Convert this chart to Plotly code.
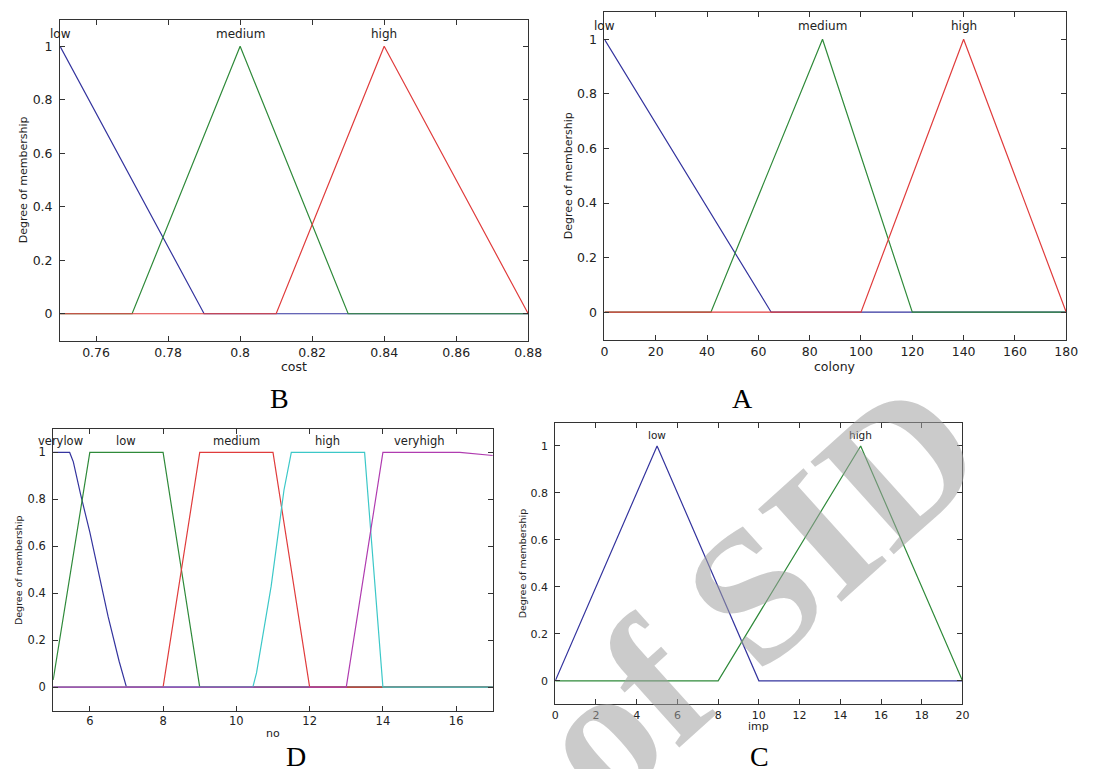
import plotly.graph_objects as go

W, H = 1094, 769

# ---------------- data ----------------
# B: cost
cost_low_x = [0.75, 0.79, 0.88]
cost_low_y = [1, 0, 0]
cost_med_x = [0.75, 0.77, 0.80, 0.83, 0.88]
cost_med_y = [0, 0, 1, 0, 0]
cost_high_x = [0.75, 0.81, 0.84, 0.88]
cost_high_y = [0, 0, 1, 0]
cost_ticks = [0.76, 0.78, 0.80, 0.82, 0.84, 0.86, 0.88]
cost_labels = ["low", "medium", "high"]
cost_label_x = [0.75, 0.80, 0.84]

# A: colony
col_low_x = [0, 65, 180]
col_low_y = [1, 0, 0]
col_med_x = [0, 41.5, 85, 120, 180]
col_med_y = [0, 0, 1, 0, 0]
col_high_x = [0, 100, 140, 180]
col_high_y = [0, 0, 1, 0]
col_ticks = [0, 20, 40, 60, 80, 100, 120, 140, 160, 180]
col_labels = ["low", "medium", "high"]
col_label_x = [0, 85, 140]

# D: no
no_vlow_x = [5, 5.45, 5.55, 5.75, 6.0, 6.25, 6.5, 6.8, 7.0, 17]
no_vlow_y = [1, 1, 0.96, 0.82, 0.66, 0.48, 0.30, 0.11, 0, 0]
no_low_x = [5, 6, 8, 9, 17]
no_low_y = [0.03, 1, 1, 0, 0]
no_med_x = [5, 8, 9, 11, 12, 17]
no_med_y = [0, 0, 1, 1, 0, 0]
no_high_x = [5, 10.45, 10.55, 10.95, 11.3, 11.5, 13.5, 14, 17]
no_high_y = [0, 0, 0.06, 0.43, 0.84, 1, 1, 0, 0]
no_vhigh_x = [5, 13, 14, 16.1, 17]
no_vhigh_y = [0, 0, 1, 1, 0.987]
no_ticks = [6, 8, 10, 12, 14, 16]
no_labels = ["verylow", "low", "medium", "high", "veryhigh"]
no_label_x = [5.2, 7, 10, 12.5, 15]

# C: imp
imp_low_x = [0, 5, 10, 20]
imp_low_y = [0, 1, 0, 0]
imp_high_x = [0, 8, 15, 20]
imp_high_y = [0, 0, 1, 0]
imp_ticks = [0, 2, 4, 6, 8, 10, 12, 14, 16, 18, 20]
imp_labels = ["low", "high"]
imp_label_x = [5, 15]

y_ticks = [0, 0.2, 0.4, 0.6, 0.8, 1]

BLUE, GREEN, RED, CYAN, MAG = "#34349e", "#2f8a3a", "#e03c3c", "#3cc8c8", "#b03cb0"
SANS = "DejaVu Sans, Arial, sans-serif"
SERIF = "Liberation Serif, Times New Roman, serif"

# ---------------- layout helpers (pixels -> paper) ----------------
def px(x):
    return x / W

def py(y):
    return 1 - y / H

def dom(l, t, r, b):
    return [px(l), px(r)], [py(b), py(t)]

boxes = {
    "B": (57, 19.5, 533, 340.5),
    "A": (610.5, 12, 1080, 339.5),
    "D": (50, 429, 497, 710.5),
    "C": (560.5, 422.5, 974.5, 704.3),
}

fig = go.Figure()
layout = dict(width=W, height=H, margin=dict(l=0, r=0, t=0, b=0),
              paper_bgcolor="white", plot_bgcolor="white", showlegend=False,
              hovermode=False,
              font=dict(family=SANS, color="#222"))
annotations = []

panels = [
    # key, axis idx, xrange, xticks, series, labels, label_x, xtitle, tick, label, xtitle, ytitle font sizes
    ("B", 1, [0.75, 0.88], cost_ticks,
     [(cost_low_x, cost_low_y, BLUE), (cost_med_x, cost_med_y, GREEN), (cost_high_x, cost_high_y, RED)],
     cost_labels, cost_label_x, "cost", 12.5, 12, 12.5, 11),
    ("A", 2, [0, 180], col_ticks,
     [(col_low_x, col_low_y, BLUE), (col_med_x, col_med_y, GREEN), (col_high_x, col_high_y, RED)],
     col_labels, col_label_x, "colony", 12.5, 12, 12.5, 11),
    ("D", 3, [5, 17], no_ticks,
     [(no_vlow_x, no_vlow_y, BLUE), (no_low_x, no_low_y, GREEN), (no_med_x, no_med_y, RED),
      (no_high_x, no_high_y, CYAN), (no_vhigh_x, no_vhigh_y, MAG)],
     no_labels, no_label_x, "no", 11.5, 11.5, 11, 9.5),
    ("C", 4, [0, 20], imp_ticks,
     [(imp_low_x, imp_low_y, BLUE), (imp_high_x, imp_high_y, GREEN)],
     imp_labels, imp_label_x, "imp", 11, 10.5, 11, 9.5),
]

title_pos = {
    "B": dict(xt=(295, 366.5), yt=(19.6, 180), cap=(280, 399)),
    "A": dict(xt=(845, 366.5), yt=(573.6, 176), cap=(751, 399)),
    "D": dict(xt=(273, 733), yt=(14.3, 570), cap=(297, 756)),
    "C": dict(xt=(767, 726.7), yt=(527, 563), cap=(768, 756)),
}

for key, i, xr, xt, series, labs, labx, xtitle, tf, lf, xf, yf in panels:
    sfx = "" if i == 1 else str(i)
    xa, ya = "x" + sfx, "y" + sfx
    xd, yd = dom(*boxes[key])
    axis_common = dict(showgrid=False, zeroline=False, showline=True, mirror="ticks",
                       linecolor="#333", linewidth=1, ticks="inside", ticklen=5,
                       tickcolor="#333", tickfont=dict(size=tf, color="#222", family=SANS))
    layout["xaxis" + sfx] = dict(domain=xd, range=xr, tickvals=xt, anchor=ya, **axis_common)
    layout["yaxis" + sfx] = dict(domain=yd, range=[-0.1, 1.1], tickvals=y_ticks, anchor=xa,
                                 ticklabelstandoff=4, **axis_common)
    for sx, sy, c in series:
        fig.add_trace(go.Scatter(x=sx, y=sy, mode="lines", line=dict(color=c, width=1.2),
                                 xaxis=xa, yaxis=ya, hoverinfo="skip"))
    for t, lx in zip(labs, labx):
        annotations.append(dict(x=lx, y=1.047, xref=xa, yref=ya, text=t, showarrow=False,
                                font=dict(size=lf, color="#222", family=SANS),
                                xanchor="center", yanchor="middle"))
    p = title_pos[key]
    annotations.append(dict(x=px(p["xt"][0]), y=py(p["xt"][1]), xref="paper", yref="paper",
                            text=xtitle, showarrow=False, font=dict(size=xf, color="#222", family=SANS),
                            xanchor="center", yanchor="middle"))
    annotations.append(dict(x=px(p["yt"][0]), y=py(p["yt"][1]), xref="paper", yref="paper",
                            text="Degree of membership", textangle=-90, showarrow=False,
                            font=dict(size=yf, color="#222", family=SANS),
                            xanchor="center", yanchor="middle"))
    annotations.append(dict(x=px(p["cap"][0]), y=py(p["cap"][1]), xref="paper", yref="paper",
                            text=key, showarrow=False,
                            font=dict(size=28, color="black", family=SERIF),
                            xanchor="center", yanchor="middle"))

# watermark
annotations.append(dict(x=px(765), y=py(592), xref="paper", yref="paper", text="<b>of SID</b>",
                        textangle=-42, showarrow=False,
                        font=dict(size=190, color="rgba(160,160,160,0.55)", family=SERIF),
                        xanchor="center", yanchor="middle"))

layout["annotations"] = annotations
fig.update_layout(**layout)
fig.write_html("out.html", config={"displayModeBar": False},
               post_script="document.body.style.margin='0';")
